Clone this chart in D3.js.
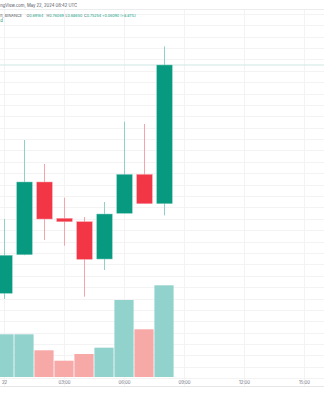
<!DOCTYPE html>
<html>
<head>
<meta charset="utf-8">
<script src="https://cdn.jsdelivr.net/npm/d3@7"></script>
<style>
  html, body { margin: 0; padding: 0; background: #ffffff; }
  svg { display: block; font-family: "Inter", "Roboto", sans-serif; }
</style>
</head>
<body>
<svg id="chartSvg" width="324" height="400"></svg>
<script>
// hourly candles, May 22 2024 (UTC)
var hours = [0, 1, 2, 3, 4, 5, 6, 7, 8];
var opens = [0.65228, 0.66923, 0.70116, 0.68521, 0.68372, 0.66734, 0.68741, 0.70450, 0.69164];
var highs = [0.68491, 0.71960, 0.70906, 0.69426, 0.68579, 0.69237, 0.72764, 0.72663, 0.76069];
var lows = [0.64977, 0.66900, 0.67569, 0.67318, 0.65078, 0.66251, 0.68741, 0.69164, 0.68650];
var closes = [0.66897, 0.70116, 0.68491, 0.68372, 0.66721, 0.68710, 0.70450, 0.69164, 0.75254];
var volumes = [4.27, 4.27, 2.67, 1.63, 2.30, 2.93, 7.70, 4.77, 9.17];

var tickHours = [0, 3, 6, 9, 12, 15];
var tickLabels = ["22", "03:00", "06:00", "09:00", "12:00", "15:00"];
var gridPrices = d3.range(0.615, 0.7751, 0.005);
var lastPrice = 0.75254;

// header legend (only the part right of the crop edge is visible in the snapshot)
var headerLine1 = "ngView.com, May 22, 2024 08:42 UTC";
var headerSymbol = "h, BINANCE";
var headerKeys = ["O", "H", "L", "C", ""];
var headerValues = ["0.69164", "0.76069", "0.68650", "0.75254", "+0.06090 (+8.81%)"];
var headerX = [26.5, 46.5, 65.5, 84, 102];

function drawChart() {
  var svg = d3.select("#chartSvg"),
    width = +svg.attr("width"),
    height = +svg.attr("height");

  var upColor = "#089981",
    downColor = "#f23645",
    upWick = "#8fd1c6",
    downWick = "#f7a3ab",
    upVol = "#92d2cc",
    downVol = "#f7a9a7";

  var day = Date.UTC(2024, 4, 22);
  function hourDate(h) {
    return new Date(day + h * 3600 * 1000);
  }

  var x = d3
    .scaleUtc()
    .domain([hourDate(0), hourDate(15)])
    .range([4, 304]);

  var y = d3
    .scaleLinear()
    .domain([0.615, 0.775])
    .range([378.2, 13.86]);

  var yVol = d3
    .scaleLinear()
    .domain([0, 10])
    .range([377, 277]);

  var candles = hours.map(function(h, i) {
    return { t: hourDate(h), o: opens[i], h: highs[i], l: lows[i], c: closes[i], v: volumes[i] };
  });

  //grid
  var grid = svg.append("g").attr("class", "grid");
  grid
    .selectAll("line.hgrid")
    .data(gridPrices)
    .enter()
    .append("line")
    .attr("x1", 0)
    .attr("x2", width)
    .attr("y1", function(d) { return Math.round(y(d)) + 0.5; })
    .attr("y2", function(d) { return Math.round(y(d)) + 0.5; })
    .attr("stroke", "#f3f3f4")
    .attr("stroke-width", 1);

  grid
    .selectAll("line.vgrid")
    .data(tickHours)
    .enter()
    .append("line")
    .attr("x1", function(d) { return Math.round(x(hourDate(d))) + 0.5; })
    .attr("x2", function(d) { return Math.round(x(hourDate(d))) + 0.5; })
    .attr("y1", 9)
    .attr("y2", 386)
    .attr("stroke", "#f3f3f4")
    .attr("stroke-width", 1);

  //pane borders
  svg.append("line").attr("x1", 0).attr("x2", width).attr("y1", 9.5).attr("y2", 9.5)
    .attr("stroke", "#ececee");
  svg.append("line").attr("x1", 0).attr("x2", width).attr("y1", 386.5).attr("y2", 386.5)
    .attr("stroke", "#e6e6e8");

  //volume bars
  var step = x(hourDate(1)) - x(hourDate(0));
  svg
    .append("g")
    .attr("class", "volume")
    .selectAll("rect")
    .data(candles)
    .enter()
    .append("rect")
    .attr("x", function(d) { return x(d.t) - step / 2 + 0.4; })
    .attr("width", step - 0.8)
    .attr("y", function(d) { return yVol(d.v); })
    .attr("height", function(d) { return yVol(0) - yVol(d.v); })
    .attr("fill", function(d) { return d.c >= d.o ? upVol : downVol; });

  //last price line
  svg
    .append("line")
    .attr("x1", 0)
    .attr("x2", width)
    .attr("y1", y(lastPrice))
    .attr("y2", y(lastPrice))
    .attr("stroke", "#cfe7e3")
    .attr("stroke-width", 1);

  //candles
  var candle = svg
    .append("g")
    .attr("class", "candles")
    .selectAll("g")
    .data(candles)
    .enter()
    .append("g");

  candle
    .append("line")
    .attr("x1", function(d) { return Math.round(x(d.t)) + 0.5; })
    .attr("x2", function(d) { return Math.round(x(d.t)) + 0.5; })
    .attr("y1", function(d) { return y(d.h); })
    .attr("y2", function(d) { return y(d.l); })
    .attr("stroke", function(d) { return d.c >= d.o ? upWick : downWick; })
    .attr("stroke-width", 1);

  var bodyW = 15.5;
  candle
    .append("rect")
    .attr("x", function(d) { return x(d.t) - bodyW / 2 + 0.5; })
    .attr("width", bodyW)
    .attr("y", function(d) { return y(Math.max(d.o, d.c)); })
    .attr("height", function(d) { return Math.max(2, Math.abs(y(d.o) - y(d.c))); })
    .attr("fill", function(d) { return d.c >= d.o ? upColor : downColor; })
    .attr("stroke", function(d) { return d.c >= d.o ? "#7fcbbe" : "#f69aa3"; })
    .attr("stroke-width", 0.5);

  //time axis labels
  svg
    .append("g")
    .attr("class", "time-labels")
    .selectAll("text")
    .data(tickHours)
    .enter()
    .append("text")
    .attr("x", function(d) { return Math.max(4.5, x(hourDate(d)) + 0.5); })
    .attr("y", 383.5)
    .attr("text-anchor", "middle")
    .attr("font-size", 4.3)
    .attr("fill", "#6a6d78")
    .text(function(d, i) { return tickLabels[i]; });

  //header legend
  svg
    .append("text")
    .attr("x", 0.3)
    .attr("y", 6.6)
    .attr("font-size", 4.2)
    .attr("fill", "#50535e")
    .text(headerLine1);

  svg
    .append("text")
    .attr("x", 0.3)
    .attr("y", 16.5)
    .attr("font-size", 3.9)
    .attr("fill", "#50535e")
    .text(headerSymbol);

  var ohlc = svg
    .append("g")
    .selectAll("text")
    .data(headerValues)
    .enter()
    .append("text")
    .attr("x", function(d, i) { return headerX[i]; })
    .attr("y", 16.5)
    .attr("font-size", 3.7);
  ohlc.append("tspan").attr("fill", "#50535e").text(function(d, i) { return headerKeys[i]; });
  ohlc.append("tspan").attr("fill", upColor).text(function(d) { return d; });

  svg
    .append("text")
    .attr("x", 0.3)
    .attr("y", 21.6)
    .attr("font-size", 4.2)
    .attr("fill", upColor)
    .text("d");
}

drawChart();
</script>
</body>
</html>
